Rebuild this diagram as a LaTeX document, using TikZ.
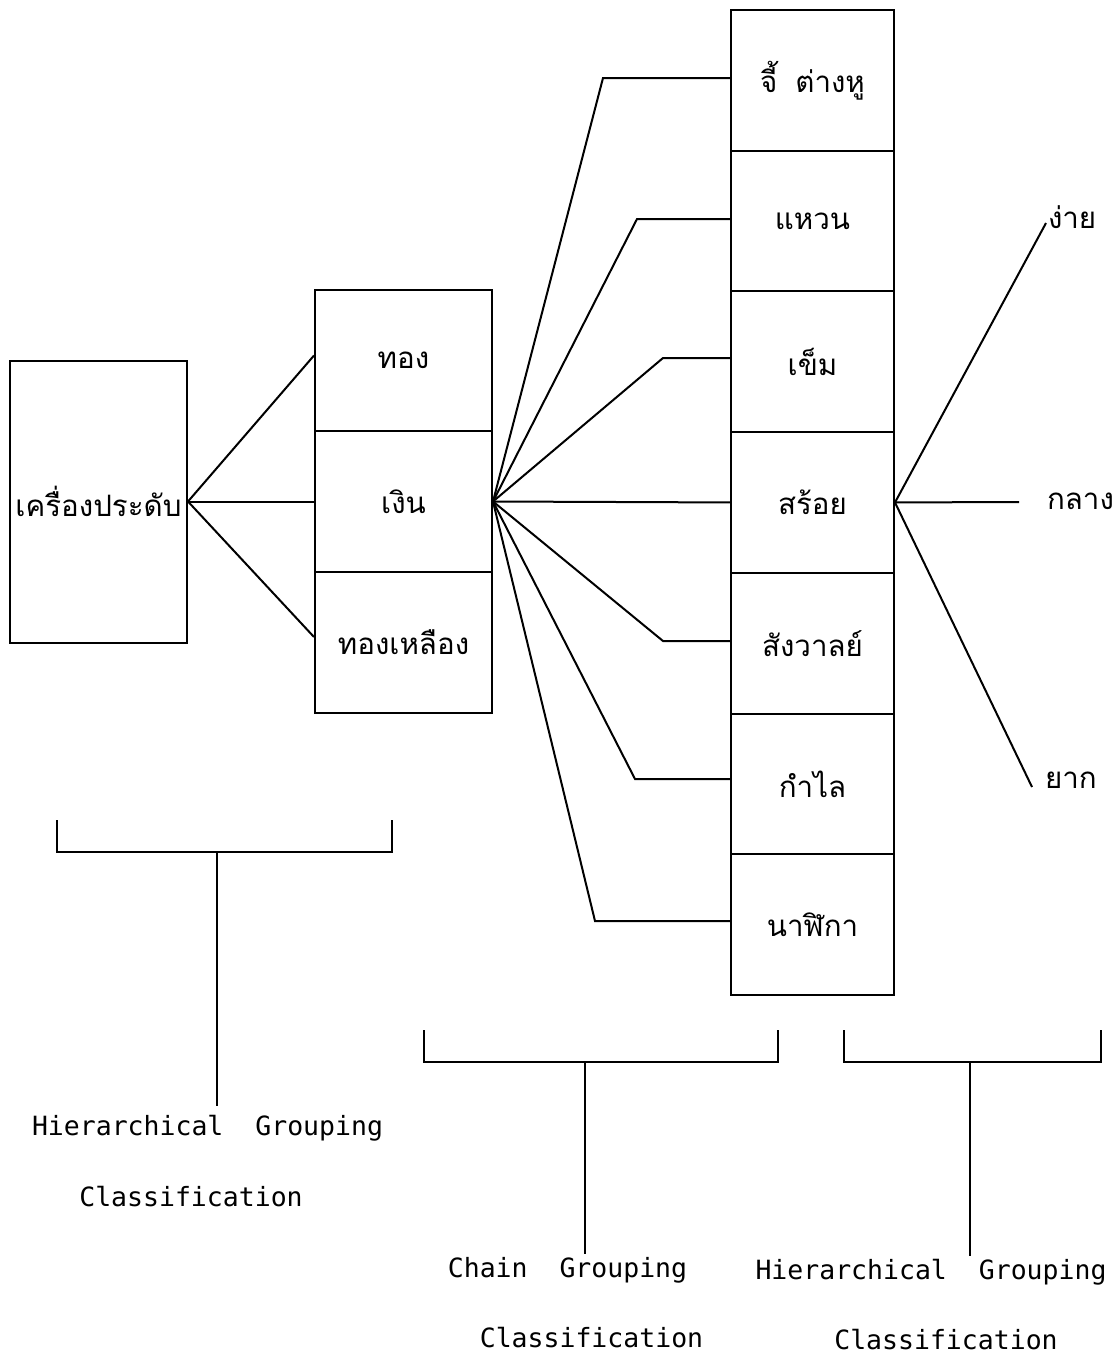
\documentclass[tikz,border=0pt]{standalone}
\usepackage{fontspec}
\newfontfamily\thaifont[Script=Thai]{Loma}
\newfontfamily\engfont{DejaVu Sans Mono}
\begin{document}
\begin{tikzpicture}[x=1pt,y=-1pt,line width=2pt,
  thai/.style={font=\thaifont\fontsize{29.5}{36}\selectfont},
  eng/.style={font=\engfont\fontsize{26.5}{30}\selectfont,inner sep=2pt},
  cellbox/.style={draw,rectangle,inner sep=0pt,thai},
  midcell/.style={cellbox,minimum width=177pt,minimum height=141pt},
  rcell/.style={cellbox,minimum width=163pt,minimum height=140.7pt},
  lbl/.style={thai,inner sep=1pt,anchor=west}]
\useasboundingbox (0,0) rectangle (1114,1355);
% left box
\node[cellbox,minimum width=177pt,minimum height=282pt] (jew) at (98.5,501.5) {เครื่องประดับ};
% middle column
\node[midcell] (gold) at (403.5,360.5) {ทอง};
\node[midcell] (silver) at (403.5,501.5) {เงิน};
\node[midcell] (brass) at (403.5,642) {ทองเหลือง};
% right column
\node[rcell] (c1) at (812.5,80.35) {จี้\hspace*{18pt}ต่างหู};
\node[rcell] (c2) at (812.5,221.05) {แหวน};
\node[rcell] (c3) at (812.5,361.75) {เข็ม};
\node[rcell] (c4) at (812.5,502.45) {สร้อย};
\node[rcell] (c5) at (812.5,643.15) {สังวาลย์};
\node[rcell] (c6) at (812.5,783.85) {กำไล};
\node[rcell] (c7) at (812.5,924.55) {นาฬิกา};
% left connectors
\draw (jew.east) -- ([yshift=5pt]gold.west);
\draw (jew.east) -- (silver.west);
\draw (jew.east) -- ([yshift=5pt]brass.west);
% middle fan
\coordinate (b1) at (603,78);
\coordinate (b2) at (637,219);
\coordinate (b3) at (663,358);
\coordinate (b5) at (663,641);
\coordinate (b6) at (635,779);
\coordinate (b7) at (595,921);
\draw (silver.east) -- (b1) -- (b1 -| c1.west);
\draw (silver.east) -- (b2) -- (b2 -| c2.west);
\draw (silver.east) -- (b3) -- (b3 -| c3.west);
\draw (silver.east) -- (c4.west);
\draw (silver.east) -- (b5) -- (b5 -| c5.west);
\draw (silver.east) -- (b6) -- (b6 -| c6.west);
\draw (silver.east) -- (b7) -- (b7 -| c7.west);
% right fan
\node[lbl] (easy) at (1046,217) {ง่าย};
\node[lbl] (medium) at (1045,501) {กลาง};
\node[lbl] (hard) at (1043,780) {ยาก};
\draw (c4.east) -- ([yshift=-6pt]easy.west);
\draw (c4.east) -- ([xshift=-26pt,yshift=-1pt]medium.west);
\draw (c4.east) -- ([xshift=-11pt,yshift=-7pt]hard.west);
% labels
\node[eng] (hier1) at (207.5,1128) {Hierarchical~~Grouping};
\node[eng] (class1) at (191,1197) {Classification};
\node[eng] (chain) at (567.5,1270) {Chain~~Grouping};
\node[eng] (class2) at (591.5,1338) {Classification};
\node[eng] (hier2) at (931,1272) {Hierarchical~~Grouping};
\node[eng] (class3) at (946,1340) {Classification};
% brackets
\coordinate (l1) at (57,820);
\coordinate (l2) at (392,820);
\coordinate (ls) at (217,852);
\draw (l1) -- (57,852) -- (392,852) -- (l2);
\draw (ls) -- ([yshift=6pt]ls |- hier1.north);
\coordinate (m1) at (424,1030);
\coordinate (m2) at (778,1030);
\coordinate (ms) at (585,1062);
\draw (m1) -- (424,1062) -- (778,1062) -- (m2);
\draw (ms) -- (ms |- chain.north);
\coordinate (r1) at (844,1030);
\coordinate (r2) at (1101,1030);
\coordinate (rs) at (970,1062);
\draw (r1) -- (844,1062) -- (1101,1062) -- (r2);
\draw (rs) -- (rs |- hier2.north);
\end{tikzpicture}
\end{document}
